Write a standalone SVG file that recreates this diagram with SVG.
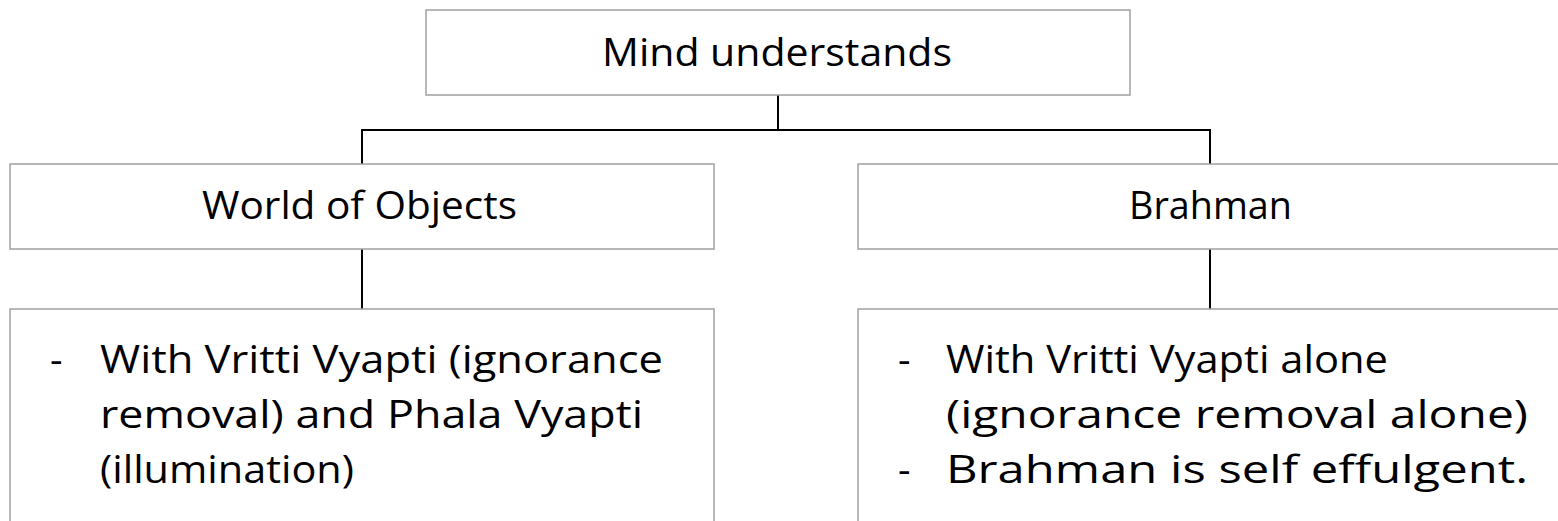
<svg xmlns="http://www.w3.org/2000/svg" width="1558" height="521" viewBox="0 0 1558 521">
  <style>
    .box { fill: #ffffff; stroke: #a0a0a0; stroke-width: 1.5; }
    .lbl { font-family: "Open Sans", "Liberation Sans", sans-serif; font-size: 39px; fill: #000000; }
    .wire { fill: none; stroke: #000000; stroke-width: 2; }
  </style>
  <rect width="1558" height="521" fill="#ffffff"/>

  <g id="connectors">
    <path class="wire" d="M778 95 V130 M362 164 V130 H1210 V164"/>
    <path class="wire" d="M362 249 V309"/>
    <path class="wire" d="M1210 249 V309"/>
  </g>

  <g id="mind">
    <rect class="box" x="426" y="10" width="704" height="85"/>
    <text class="lbl" x="602" y="66" textLength="350" lengthAdjust="spacingAndGlyphs">Mind understands</text>
  </g>

  <g id="world">
    <rect class="box" x="10" y="164" width="704" height="85"/>
    <text class="lbl" x="202" y="219" textLength="315" lengthAdjust="spacingAndGlyphs">World of Objects</text>
  </g>

  <g id="brahman">
    <rect class="box" x="858" y="164" width="720" height="85"/>
    <text class="lbl" x="1129" y="219" textLength="163" lengthAdjust="spacingAndGlyphs">Brahman</text>
  </g>

  <g id="world-detail">
    <rect class="box" x="10" y="309" width="704" height="240"/>
    <text class="lbl" x="50" y="373">-</text>
    <text class="lbl" x="100" y="373" textLength="563" lengthAdjust="spacingAndGlyphs">With Vritti Vyapti (ignorance</text>
    <text class="lbl" x="100" y="428" textLength="543" lengthAdjust="spacingAndGlyphs">removal) and Phala Vyapti</text>
    <text class="lbl" x="100" y="483" textLength="254" lengthAdjust="spacingAndGlyphs">(illumination)</text>
  </g>

  <g id="brahman-detail">
    <rect class="box" x="858" y="309" width="720" height="240"/>
    <text class="lbl" x="898" y="373">-</text>
    <text class="lbl" x="946" y="373" textLength="442" lengthAdjust="spacingAndGlyphs">With Vritti Vyapti alone</text>
    <text class="lbl" x="946" y="428" textLength="582" lengthAdjust="spacingAndGlyphs">(ignorance removal alone)</text>
    <text class="lbl" x="898" y="483">-</text>
    <text class="lbl" x="946" y="483" textLength="582" lengthAdjust="spacingAndGlyphs">Brahman is self effulgent.</text>
  </g>
</svg>
